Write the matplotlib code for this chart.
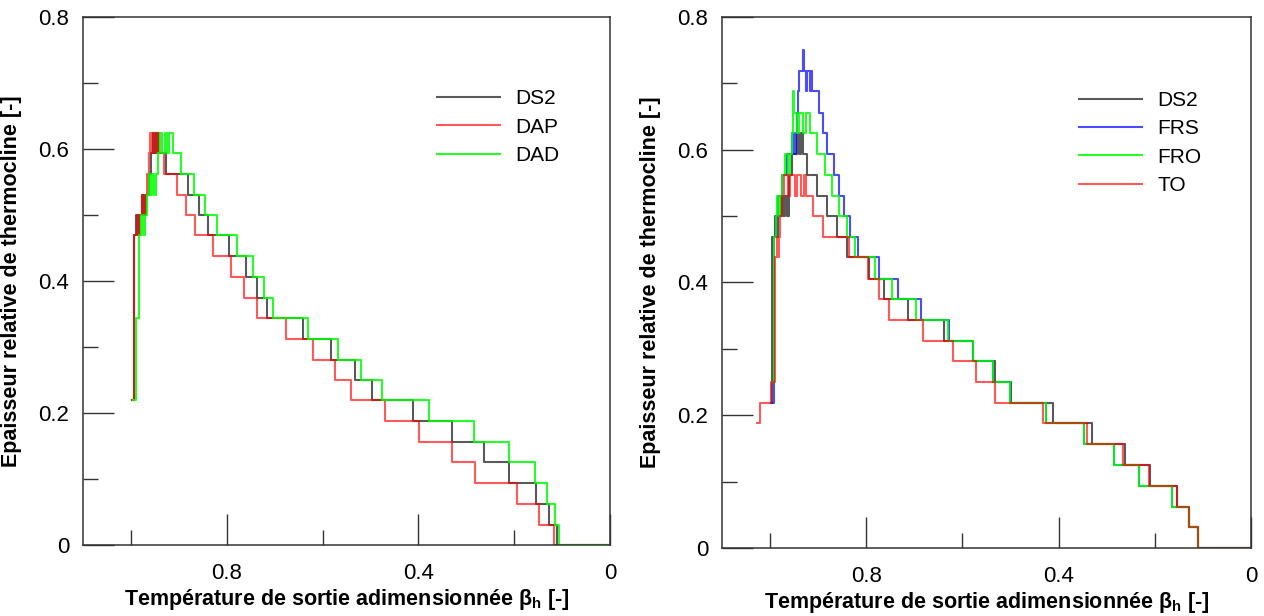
import matplotlib
matplotlib.use("Agg")
import matplotlib.pyplot as plt
from matplotlib.ticker import FixedLocator, FuncFormatter

plt.rcParams['font.family'] = ['Liberation Sans', 'DejaVu Sans']
plt.rcParams['mathtext.fontset'] = 'custom'
plt.rcParams['mathtext.rm'] = 'Liberation Sans'
plt.rcParams['mathtext.bf'] = 'Liberation Sans:bold'

# ---- left panel : DS2 / DAP / DAD (x = beta_h, y = relative thickness) ----
ds2_x_l = [0.998, 0.994, 0.990, 0.986, 0.983, 0.977, 0.973, 0.969, 0.962, 0.958, 0.955, 0.951,
           0.948, 0.944, 0.926, 0.882, 0.858, 0.840, 0.795, 0.760, 0.736, 0.717, 0.642, 0.582,
           0.533, 0.496, 0.412, 0.329, 0.264, 0.211, 0.155, 0.128, 0.111, 0.0]
ds2_y_l = [0.219, 0.469, 0.500, 0.469, 0.500, 0.531, 0.500, 0.531, 0.562, 0.594, 0.625, 0.594,
           0.625, 0.594, 0.562, 0.531, 0.500, 0.469, 0.438, 0.406, 0.375, 0.344, 0.312, 0.281,
           0.250, 0.219, 0.188, 0.156, 0.125, 0.094, 0.062, 0.031, 0.000, 0.000]

dap_x_l = [0.997, 0.994, 0.988, 0.985, 0.982, 0.978, 0.975, 0.971, 0.967, 0.963, 0.960, 0.956,
           0.952, 0.948, 0.945, 0.941, 0.931, 0.904, 0.885, 0.866, 0.828, 0.791, 0.764, 0.738,
           0.676, 0.621, 0.575, 0.540, 0.469, 0.399, 0.331, 0.281, 0.195, 0.149, 0.117, 0.0]
dap_y_l = [0.219, 0.469, 0.500, 0.469, 0.500, 0.531, 0.500, 0.531, 0.562, 0.594, 0.625, 0.594,
           0.625, 0.594, 0.625, 0.594, 0.562, 0.531, 0.500, 0.469, 0.438, 0.406, 0.375, 0.344,
           0.312, 0.281, 0.250, 0.219, 0.188, 0.156, 0.125, 0.094, 0.062, 0.031, 0.000, 0.000]

dad_x_l = [0.995, 0.989, 0.983, 0.979, 0.975, 0.971, 0.967, 0.963, 0.960, 0.956, 0.952, 0.948,
           0.944, 0.939, 0.935, 0.929, 0.925, 0.920, 0.912, 0.895, 0.868, 0.846, 0.820, 0.778,
           0.745, 0.723, 0.704, 0.631, 0.567, 0.519, 0.477, 0.377, 0.285, 0.211, 0.157, 0.132,
           0.115, 0.107, 0.0]
dad_y_l = [0.219, 0.344, 0.469, 0.500, 0.469, 0.500, 0.531, 0.562, 0.531, 0.562, 0.531, 0.562,
           0.594, 0.625, 0.594, 0.625, 0.594, 0.625, 0.594, 0.562, 0.531, 0.500, 0.469, 0.438,
           0.406, 0.375, 0.344, 0.312, 0.281, 0.250, 0.219, 0.188, 0.156, 0.125, 0.094, 0.062,
           0.031, 0.000, 0.000]

# ---- right panel : DS2 / FRS / FRO / TO ----
ds2_x_r = [0.998, 0.995, 0.990, 0.987, 0.983, 0.977, 0.973, 0.969, 0.965, 0.960, 0.954, 0.944,
           0.940, 0.935, 0.931, 0.923, 0.902, 0.881, 0.860, 0.840, 0.794, 0.763, 0.714, 0.638,
           0.578, 0.533, 0.499, 0.412, 0.330, 0.263, 0.209, 0.154, 0.129, 0.110, 0.0]
ds2_y_r = [0.219, 0.469, 0.500, 0.469, 0.500, 0.531, 0.500, 0.531, 0.500, 0.562, 0.594, 0.625,
           0.594, 0.625, 0.594, 0.562, 0.531, 0.500, 0.469, 0.438, 0.406, 0.375, 0.344, 0.312,
           0.281, 0.250, 0.219, 0.188, 0.156, 0.125, 0.094, 0.062, 0.031, 0.000, 0.000]

frs_x_r = [0.996, 0.992, 0.988, 0.983, 0.975, 0.965, 0.954, 0.950, 0.946, 0.944, 0.942, 0.940,
           0.931, 0.929, 0.926, 0.923, 0.917, 0.914, 0.912, 0.899, 0.891, 0.882, 0.867, 0.856,
           0.846, 0.834, 0.818, 0.773, 0.735, 0.686, 0.627, 0.578, 0.537, 0.502, 0.426, 0.348,
           0.285, 0.233, 0.165, 0.129, 0.110, 0.0]
frs_y_r = [0.219, 0.469, 0.500, 0.531, 0.562, 0.594, 0.625, 0.594, 0.625, 0.656, 0.688, 0.719,
           0.750, 0.719, 0.688, 0.719, 0.688, 0.719, 0.688, 0.656, 0.625, 0.594, 0.562, 0.531,
           0.500, 0.469, 0.438, 0.406, 0.375, 0.344, 0.312, 0.281, 0.250, 0.219, 0.188, 0.156,
           0.125, 0.094, 0.062, 0.031, 0.000, 0.000]

fro_x_r = [0.996, 0.992, 0.988, 0.985, 0.981, 0.979, 0.975, 0.969, 0.962, 0.958, 0.955, 0.952,
           0.950, 0.944, 0.940, 0.931, 0.925, 0.917, 0.902, 0.885, 0.871, 0.856, 0.840, 0.823,
           0.781, 0.746, 0.697, 0.630, 0.578, 0.537, 0.502, 0.426, 0.348, 0.285, 0.233, 0.165,
           0.129, 0.110, 0.0]
fro_y_r = [0.250, 0.469, 0.500, 0.531, 0.500, 0.531, 0.562, 0.594, 0.562, 0.594, 0.625, 0.688,
           0.656, 0.625, 0.656, 0.625, 0.656, 0.625, 0.594, 0.562, 0.531, 0.500, 0.469, 0.438,
           0.406, 0.375, 0.344, 0.312, 0.281, 0.250, 0.219, 0.188, 0.156, 0.125, 0.094, 0.062,
           0.031, 0.000, 0.000]

to_x_r = [1.028, 1.022, 0.998, 0.990, 0.986, 0.983, 0.981, 0.979, 0.976, 0.972, 0.962, 0.958,
          0.948, 0.944, 0.935, 0.929, 0.925, 0.910, 0.891, 0.835, 0.797, 0.773, 0.752, 0.683,
          0.620, 0.571, 0.533, 0.433, 0.342, 0.266, 0.212, 0.154, 0.129, 0.110, 0.0]
to_y_r = [0.188, 0.219, 0.250, 0.438, 0.469, 0.438, 0.469, 0.500, 0.531, 0.562, 0.531, 0.562,
          0.531, 0.562, 0.531, 0.562, 0.531, 0.500, 0.469, 0.438, 0.406, 0.375, 0.344, 0.312,
          0.281, 0.250, 0.219, 0.188, 0.156, 0.125, 0.094, 0.062, 0.031, 0.000, 0.000]

x_major = [0.8, 0.4, 0.0]
x_minor = [1.0, 0.6, 0.2]
y_major = [0.0, 0.2, 0.4, 0.6, 0.8]
y_minor = [0.1, 0.3, 0.5, 0.7]

black = dict(color='black', alpha=0.65, lw=1.5)
red = dict(color='#ff0000', alpha=0.65, lw=1.5)
green = dict(color='#00ff00', alpha=0.85, lw=1.5)
blue = dict(color='#0000ff', alpha=0.7, lw=1.5)

fig = plt.figure(figsize=(12.64, 6.16), dpi=100)
ax1 = fig.add_axes([0.0657, 0.1153, 0.417, 0.857])
ax2 = fig.add_axes([0.5712, 0.1104, 0.4185, 0.862])

ax1.step(ds2_x_l, ds2_y_l, where='post', label='DS2', **black)
ax1.step(dap_x_l, dap_y_l, where='post', label='DAP', **red)
ax1.step(dad_x_l, dad_y_l, where='post', label='DAD', **green)

ax2.step(ds2_x_r, ds2_y_r, where='post', label='DS2', **black)
ax2.step(frs_x_r, frs_y_r, where='post', label='FRS', **blue)
ax2.step(fro_x_r, fro_y_r, where='post', label='FRO', **green)
ax2.step(to_x_r, to_y_r, where='post', label='TO', **red)

fmt = FuncFormatter(lambda v, p: '%g' % round(v, 2))
legend_pos = {ax1: (0.636, 0.899), ax2: (0.6395, 0.896)}
for ax in (ax1, ax2):
    ax.set_xlim(1.1, 0.0)
    ax.set_ylim(0.0, 0.8)
    ax.xaxis.set_major_locator(FixedLocator(x_major))
    ax.xaxis.set_minor_locator(FixedLocator(x_minor))
    ax.yaxis.set_major_locator(FixedLocator(y_major))
    ax.yaxis.set_minor_locator(FixedLocator(y_minor))
    ax.xaxis.set_major_formatter(fmt)
    ax.yaxis.set_major_formatter(fmt)
    ax.tick_params(which='major', direction='in', length=22, width=1.0, color='#333333',
                   labelsize=16, top=False, right=False)
    ax.tick_params(which='minor', direction='in', length=11, width=1.0, color='#333333',
                   top=False, right=False)
    ax.tick_params(axis='x', which='major', pad=13)
    ax.tick_params(axis='y', which='major', pad=10)
    for s in ax.spines.values():
        s.set_linewidth(1.1)
        s.set_color('#333333')
    ax.set_ylabel('Epaisseur relative de thermocline [-]', fontsize=15.5, fontweight='bold')
    ax.set_xlabel(r'Température de sortie adimensionnée β$_\mathbf{h}$ [-]', fontsize=15.5,
                  fontweight='bold')
    ax.yaxis.set_label_coords(-0.115, 0.5)
    ax.xaxis.set_label_coords(0.5, -0.08)
    ax.legend(loc='upper left', bbox_to_anchor=legend_pos[ax], frameon=False, fontsize=15,
              handlelength=3.0, handletextpad=0.75, labelspacing=0.45)

fig.savefig('out.png', dpi=100)
